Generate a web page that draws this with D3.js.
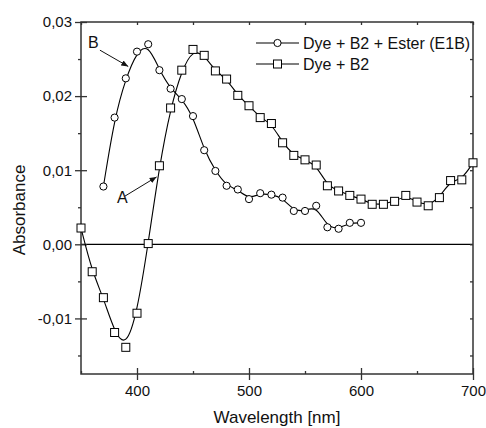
<!DOCTYPE html>
<html>
<head>
<meta charset="utf-8">
<script src="https://cdn.jsdelivr.net/npm/d3@7"></script>
<style>
    body { margin: 0; background: #fff; }
    text { font-family: "Liberation Sans", Arial, sans-serif; fill: #111; }
</style>
</head>
<body>
<div id="chart"></div>
<script>
var wavelengthEster = [370, 380, 390, 400, 410, 420, 430, 440, 450, 460, 470, 480,
    490, 500, 510, 520, 530, 540, 550, 560, 570, 580, 590, 600];
var absorbEster = [0.0078, 0.0171, 0.0224, 0.0260, 0.0270, 0.0235, 0.0210, 0.0196,
    0.0173, 0.0127, 0.0099, 0.0079, 0.0074, 0.0061, 0.0069, 0.0067, 0.0063, 0.0045,
    0.0045, 0.0052, 0.0023, 0.0021, 0.0029, 0.0029];

var wavelengthB2 = [350, 360, 370, 380, 390, 400, 410, 420, 430, 440, 450, 460,
    470, 480, 490, 500, 510, 520, 530, 540, 550, 560, 570, 580, 590, 600, 610, 620,
    630, 640, 650, 660, 670, 680, 690, 700];
var absorbB2 = [0.0022, -0.0037, -0.0072, -0.0119, -0.0139, -0.0093, 0.0001, 0.0106,
    0.0184, 0.0235, 0.0263, 0.0255, 0.0234, 0.0223, 0.0201, 0.0187, 0.0171, 0.0163,
    0.0137, 0.0120, 0.0114, 0.0107, 0.0079, 0.0072, 0.0066, 0.0061, 0.0054, 0.0054,
    0.0058, 0.0066, 0.0057, 0.0052, 0.0063, 0.0086, 0.0087, 0.0110];

var seriesNames = ["Dye + B2 + Ester (E1B)", "Dye + B2"];
var xMajorTicks = [400, 500, 600, 700];
var xMinorTicks = [350, 450, 550, 650];
var yMajorTicks = [-0.01, 0.00, 0.01, 0.02, 0.03];
var yMinorTicks = [-0.015, -0.005, 0.005, 0.015, 0.025];
var xTitle = "Wavelength [nm]";
var yTitle = "Absorbance";
// annotation labels: [text, label x, label y, arrow from x, y, arrow to x, y] in data units
var notes = [
    ["B", 356.2, 0.0265, 366.9, 0.0262, 392.2, 0.0240],
    ["A", 382.1, 0.0056, 389.2, 0.0065, 417.5, 0.0091]
];

var totalWidth = 486,
    totalHeight = 428,
    margin = {top: 22, right: 13, bottom: 54, left: 81};

var width = totalWidth - margin.left - margin.right,
    height = totalHeight - margin.top - margin.bottom;

var xScale = d3.scaleLinear().domain([350, 700]).range([0, width]);
var yScale = d3.scaleLinear().domain([-0.0175, 0.03]).range([height, 0]);

var commaFmt = function(d) {
    return d.toFixed(2).replace(".", ",");
};

var svg = d3.select("#chart").append("svg")
    .attr("width", totalWidth)
    .attr("height", totalHeight);

var defs = svg.append("defs");
defs.append("marker")
    .attr("id", "arrow")
    .attr("viewBox", "0 0 10 10")
    .attr("refX", 10)
    .attr("refY", 5)
    .attr("markerWidth", 7)
    .attr("markerHeight", 7)
    .attr("markerUnits", "userSpaceOnUse")
    .attr("orient", "auto")
    .append("path")
    .attr("d", "M0,1 L10,5 L0,9 Z")
    .attr("fill", "#111");

var g = svg.append("g")
    .attr("transform", "translate(" + margin.left + "," + margin.top + ")");

// zero line
g.append("line")
    .attr("x1", 0).attr("x2", width)
    .attr("y1", yScale(0)).attr("y2", yScale(0))
    .attr("stroke", "#000").attr("stroke-width", 1.2);

// axes
var yAxis = g.append("g")
    .call(d3.axisLeft(yScale).tickValues(yMajorTicks).tickFormat(commaFmt)
        .tickSizeInner(6).tickSizeOuter(0).tickPadding(3));
yAxis.selectAll(".tick line").attr("x1", 6);

var yMinor = g.append("g")
    .call(d3.axisLeft(yScale).tickValues(yMinorTicks).tickFormat("")
        .tickSizeInner(3).tickSizeOuter(0));

var xAxis = g.append("g")
    .attr("transform", "translate(0," + height + ")")
    .call(d3.axisBottom(xScale).tickValues(xMajorTicks).tickFormat(d3.format("d"))
        .tickSizeInner(6).tickSizeOuter(0).tickPadding(5));
xAxis.selectAll(".tick line").attr("y1", -6);

var xMinor = g.append("g")
    .attr("transform", "translate(0," + height + ")")
    .call(d3.axisBottom(xScale).tickValues(xMinorTicks).tickFormat("")
        .tickSizeInner(-3).tickSizeOuter(0));

var topAxis = g.append("g")
    .call(d3.axisTop(xScale).tickValues(xMajorTicks.concat(xMinorTicks)).tickFormat("")
        .tickSizeInner(-3).tickSizeOuter(0));

var rightAxis = g.append("g")
    .attr("transform", "translate(" + width + ",0)")
    .call(d3.axisRight(yScale).tickValues(yMajorTicks.concat(yMinorTicks)).tickFormat("")
        .tickSizeInner(-3).tickSizeOuter(0));

[yAxis, yMinor, xAxis, xMinor, topAxis, rightAxis].forEach(function(a) {
    a.select(".domain").remove();
    a.selectAll(".tick line").attr("stroke", "#333").attr("stroke-width", 1.3);
    a.selectAll(".tick text")
        .style("font-family", "'Liberation Sans', Arial, sans-serif")
        .style("font-size", "15px")
        .attr("fill", "#111");
});

g.append("rect")
    .attr("width", width).attr("height", height)
    .attr("fill", "none")
    .attr("stroke", "#333").attr("stroke-width", 1.5);

// titles
svg.append("text")
    .attr("x", margin.left + width / 2)
    .attr("y", 423)
    .attr("text-anchor", "middle")
    .style("font-size", "17px")
    .text(xTitle);

svg.append("text")
    .attr("transform", "translate(25," + 210 + ") rotate(-90)")
    .attr("text-anchor", "middle")
    .style("font-size", "17px")
    .text(yTitle);

// series
var line = d3.line()
    .x(function(d) { return xScale(d[0]); })
    .y(function(d) { return yScale(d[1]); })
    .curve(d3.curveBasis);

var esterData = d3.zip(wavelengthEster, absorbEster);
var b2Data = d3.zip(wavelengthB2, absorbB2);

g.append("path").datum(b2Data)
    .attr("d", line)
    .attr("fill", "none").attr("stroke", "#000").attr("stroke-width", 1.1);

g.append("path").datum(esterData)
    .attr("d", line)
    .attr("fill", "none").attr("stroke", "#000").attr("stroke-width", 1.1);

g.selectAll(".sq").data(b2Data).enter().append("rect")
    .attr("class", "sq")
    .attr("x", function(d) { return xScale(d[0]) - 4; })
    .attr("y", function(d) { return yScale(d[1]) - 4; })
    .attr("width", 8).attr("height", 8)
    .attr("fill", "#fff").attr("stroke", "#000").attr("stroke-width", 1);

g.selectAll(".ci").data(esterData).enter().append("circle")
    .attr("class", "ci")
    .attr("cx", function(d) { return xScale(d[0]); })
    .attr("cy", function(d) { return yScale(d[1]); })
    .attr("r", 3.6)
    .attr("fill", "#fff").attr("stroke", "#000").attr("stroke-width", 1);

// annotations
notes.forEach(function(n) {
    g.append("text")
        .attr("x", xScale(n[1]))
        .attr("y", yScale(n[2]))
        .style("font-size", "16px")
        .text(n[0]);
    g.append("line")
        .attr("x1", xScale(n[3])).attr("y1", yScale(n[4]))
        .attr("x2", xScale(n[5])).attr("y2", yScale(n[6]))
        .attr("stroke", "#111").attr("stroke-width", 1)
        .attr("marker-end", "url(#arrow)");
});

// legend
var legend = svg.append("g").attr("transform", "translate(256,0)");
var legendRows = legend.selectAll("g").data(seriesNames).enter().append("g")
    .attr("transform", function(d, i) { return "translate(0," + (43 + i * 21) + ")"; });

legendRows.append("line")
    .attr("x1", 0).attr("x2", 43)
    .attr("stroke", "#000").attr("stroke-width", 1.1);

legendRows.each(function(d, i) {
    var row = d3.select(this);
    if (i === 0) {
        row.append("circle").attr("cx", 21.5).attr("r", 3.6)
            .attr("fill", "#fff").attr("stroke", "#000");
    } else {
        row.append("rect").attr("x", 17.5).attr("y", -4).attr("width", 8).attr("height", 8)
            .attr("fill", "#fff").attr("stroke", "#000");
    }
});

legendRows.append("text")
    .attr("x", 47)
    .attr("dy", "0.35em")
    .style("font-size", "16px")
    .text(function(d) { return d; });
</script>
</body>
</html>
